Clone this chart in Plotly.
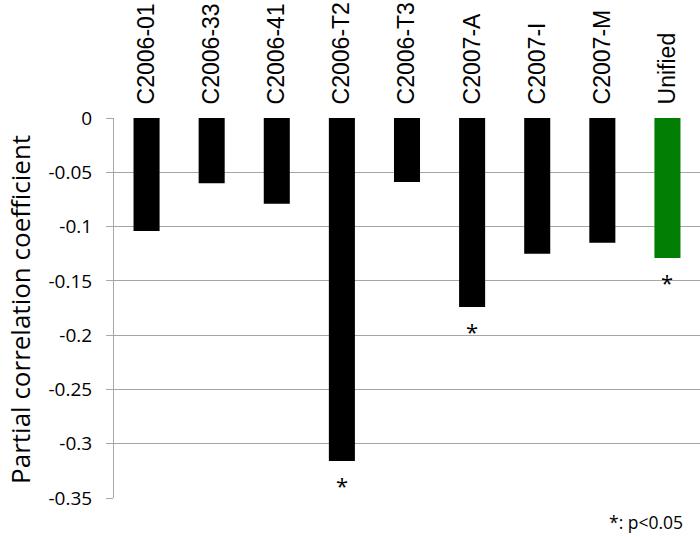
import plotly.graph_objects as go

# Partial correlation per dataset
datasets = ['C2006-01', 'C2006-33', 'C2006-41', 'C2006-T2', 'C2006-T3',
            'C2007-A', 'C2007-I', 'C2007-M', 'Unified']
coefficients = [-0.104, -0.060, -0.079, -0.316, -0.059, -0.174, -0.125, -0.115, -0.129]
significant = [False, False, False, True, False, True, False, False, True]
bar_colors = ['black'] * 8 + ['#027F02']

y_ticks = [0, -0.05, -0.1, -0.15, -0.2, -0.25, -0.3, -0.35]
y_tick_labels = ['0', '-0.05', '-0.1', '-0.15', '-0.2', '-0.25', '-0.3', '-0.35']

fig = go.Figure()
fig.add_trace(go.Bar(
    x=datasets, y=coefficients,
    marker=dict(color=bar_colors, line=dict(width=0)),
    width=0.4,
))

# asterisks under significant bars
for name, val, sig in zip(datasets, coefficients, significant):
    if sig:
        fig.add_annotation(x=name, y=val, text='*', showarrow=False,
                           yanchor='middle', yshift=-24,
                           font=dict(family='Open Sans', size=22, color='black'))

fig.add_annotation(text='Partial correlation coefficient', textangle=-90,
                   xref='paper', yref='paper', x=0, y=0.495, xshift=-94,
                   showarrow=False, xanchor='center', yanchor='middle',
                   font=dict(family='Open Sans', size=26, color='black'))

fig.add_annotation(text='*: p<0.05', xref='paper', yref='paper', x=1, y=0,
                   xanchor='right', yanchor='middle', xshift=-15, yshift=-24,
                   showarrow=False,
                   font=dict(family='Open Sans', size=17.5, color='black'))

fig.update_layout(
    width=700, height=537,
    margin=dict(l=114, r=0, t=118, b=39),
    plot_bgcolor='white', paper_bgcolor='white',
    showlegend=False,
    xaxis=dict(side='top', tickangle=-90, showgrid=False, zeroline=False,
               automargin=False,
               ticks='outside', ticklen=8, tickcolor='white',
               tickfont=dict(family='Liberation Sans', size=23, color='black')),
    yaxis=dict(range=[-0.35, 0], tickvals=y_ticks, ticktext=y_tick_labels,
               automargin=False,
               showgrid=True, gridcolor='#A6A6A6', gridwidth=1,
               zeroline=False, showline=True, linecolor='#A6A6A6',
               ticks='outside', ticklen=7, tickcolor='#A6A6A6',
               ticklabelstandoff=10,
               tickfont=dict(family='Open Sans', size=19, color='black')),
)

# drop the default body margin so the figure fills the window
fig.write_html("out.html", config={'displayModeBar': False},
               post_script="document.body.style.margin='0';")
